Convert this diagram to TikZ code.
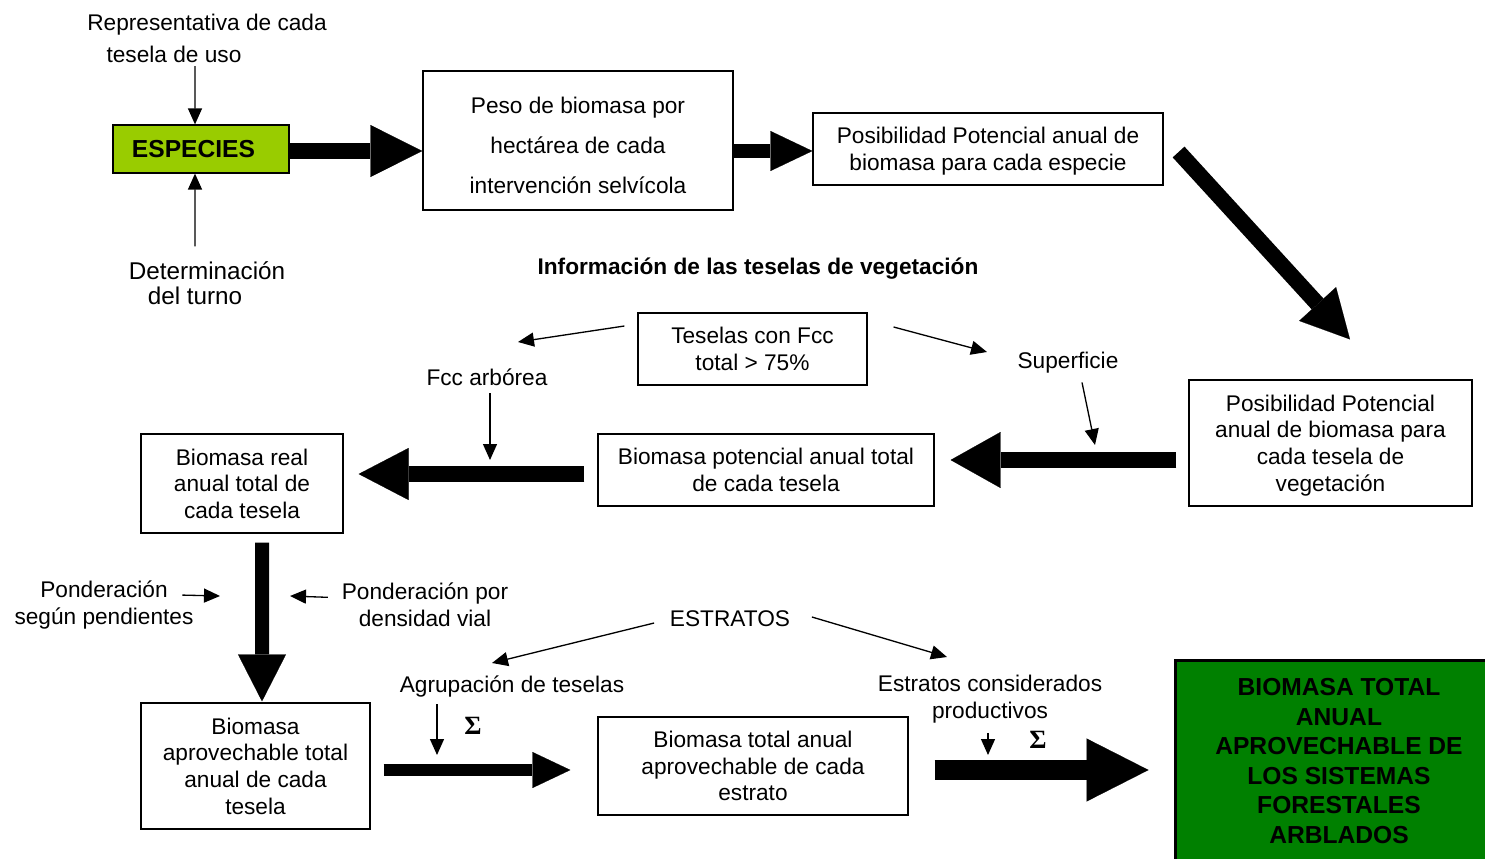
\documentclass[tikz,border=0pt]{standalone}
\usepackage{fontspec}
\setmainfont{Liberation Sans}
\newfontfamily\sigfont{Liberation Serif}
\usepackage{tikz}
\usetikzlibrary{arrows.meta,positioning,calc}
\definecolor{espgreen}{RGB}{153,204,0}
\definecolor{fingreen}{RGB}{0,128,0}

\begin{document}
\begin{tikzpicture}[x=0.02cm, y=-0.02cm]
\tikzstyle{box}=[draw, line width=0.7pt, inner sep=0pt, align=center, text depth=0pt, font=\fontsize{12.9}{15.2}\selectfont]
\tikzstyle{lbl}=[inner sep=2pt, align=center, font=\fontsize{12.9}{15.2}\selectfont]
\tikzstyle{sig}=[inner sep=2pt, font=\fontsize{15}{16}\sigfont\bfseries]
\tikzstyle{pointer}=[line width=0.75pt, -{Triangle[length=0.32cm,width=0.28cm]}]
\tikzset{fat/.style n args={3}{line width=#1, -{Triangle[width=#2,length=#3,line width=0.1pt]}}}
\useasboundingbox (0,0) rectangle (1485,859);

\node[box, fill=espgreen, minimum width=3.52cm, minimum height=0.96cm, font=\fontsize{14}{16.8}\selectfont\bfseries] (esp) at (201,149) {ESPECIES\hspace*{0.3cm}};
\node[box, minimum width=6.2cm, minimum height=2.78cm, font=\fontsize{12.9}{22.8}\selectfont] (peso) at (578,140.5) {\rule{0pt}{15pt}Peso de biomasa por\\hectárea de cada\\intervención selvícola};
\node[box, minimum width=7cm, minimum height=1.44cm] (ppe) at (988,149) {Posibilidad Potencial anual de\\biomasa para cada especie};
\node[lbl, font=\fontsize{12.9}{18.2}\selectfont] (rep) at (207,38) {Representativa de cada\\tesela de uso\hspace*{1.32cm}};
\node[lbl, font=\fontsize{13.8}{14.5}\selectfont] (det) at (207,283) {Determinación\\del turno\hspace*{0.48cm}};

\node[lbl, font=\fontsize{12.9}{15.2}\selectfont\bfseries] (info) at (758,269) {Información de las teselas de vegetación};
\node[box, minimum width=4.58cm, minimum height=1.44cm] (tes) at (752.5,349) {Teselas con Fcc\\total > 75\%};
\node[lbl] (fcc) at (487,377) {Fcc arbórea};
\node[lbl] (sup) at (1068,363) {Superficie};
\node[box, minimum width=5.66cm, minimum height=2.52cm] (ppt) at (1330.5,443) {Posibilidad Potencial\\anual de biomasa para\\cada tesela de\\vegetación};
\node[box, minimum width=6.72cm, minimum height=1.44cm] (bpot) at (766,470) {Biomasa potencial anual total\\de cada tesela};
\node[box, minimum width=4.04cm, minimum height=1.98cm] (breal) at (242,483.5) {Biomasa real\\anual total de\\cada tesela};

\node[lbl] (pond1) at (104,605) {Ponderación\\según pendientes};
\node[lbl] (pond2) at (425,605) {Ponderación por\\densidad vial};
\node[lbl] (estr) at (730,619) {ESTRATOS};
\node[lbl] (agr) at (512,686) {Agrupación de teselas};
\node[lbl] (ecp) at (990,699) {Estratos considerados\\productivos};
\node[sig] (sig1) at (473,726) {Σ};
\node[sig] (sig2) at (1038,740) {Σ};
\node[box, minimum width=4.58cm, minimum height=2.52cm] (bapr) at (255.5,766) {Biomasa\\aprovechable total\\anual de cada\\tesela};
\node[box, minimum width=6.2cm, minimum height=1.96cm] (btot) at (753,766) {Biomasa total anual\\aprovechable de cada\\estrato};
\node[box, fill=fingreen, line width=1.7pt, minimum width=6.56cm, minimum height=4.04cm, font=\fontsize{14}{16.8}\selectfont\bfseries] (fin) at (1339,761) {BIOMASA TOTAL\\ANUAL\\APROVECHABLE DE\\LOS SISTEMAS\\FORESTALES\\ARBLADOS};

\coordinate (fcce) at (518,342);
\coordinate (supe) at (987,352);
\coordinate (fccd) at (490,460);
\coordinate (supd) at (1095,445);
\coordinate (pd1) at (220,596);
\coordinate (pd2) at (290,596);
\coordinate (agre) at (492,663);
\coordinate (ecpe) at (947,657);
\coordinate (agrd) at (437,755);
\coordinate (ecpd) at (988,755);

\draw[pointer] ([xshift=-0.24cm]rep.south) -- ([xshift=-0.12cm]esp.north);
\draw[pointer] ([shift={(-12,-11)}]det.north) -- ([xshift=-0.12cm]esp.south);
\draw[pointer] ([shift={(-13,-23)}]tes.west) -- (fcce);
\draw[pointer] ([shift={(26,-22)}]tes.east) -- (supe);
\draw[pointer] ([shift={(3,4)}]fcc.south) -- (fccd);
\draw[pointer] ([shift={(14,5)}]sup.south) -- (supd);
\draw[pointer] ([shift={(-15,18)}]pond1.north east) -- (pd1);
\draw[pointer] ([shift={(-10,18)}]pond2.north west) -- (pd2);
\draw[pointer] ([shift={(-12,4)}]estr.west) -- (agre);
\draw[pointer] ([shift={(18,-2)}]estr.east) -- (ecpe);
\draw[pointer] ([shift={(-75,3.5)}]agr.south) -- (agrd);
\draw[pointer] ([shift={(-2,6)}]ecp.south) -- (ecpd);

\draw[fat={0.32cm}{1.04cm}{1.04cm}] ([shift={(0,2)}]esp.east) -- ([shift={(0,2)}]esp.east -| peso.west);
\draw[fat={0.28cm}{0.8cm}{0.84cm}] ([shift={(0,2)}]ppe.west -| peso.east) -- ([shift={(0,2)}]ppe.west);
\draw[fat={0.32cm}{1.0cm}{0.96cm}] ([shift={(15,3)}]ppe.east) -- ([shift={(19.5,-40)}]ppt.north);
\draw[fat={0.32cm}{1.12cm}{1.0cm}] ([shift={(-12,17)}]ppt.west) -- ([shift={(16,-10)}]bpot.east);
\draw[fat={0.32cm}{1.04cm}{1.0cm}] ([shift={(-13,4)}]bpot.west) -- ([shift={(15,-9.5)}]breal.east);
\draw[fat={0.28cm}{0.96cm}{0.94cm}] ([shift={(20,9)}]breal.south) -- ([shift={(6.5,-1)}]bapr.north);
\draw[fat={0.24cm}{0.72cm}{0.76cm}] ([shift={(13,4)}]bapr.east) -- ([shift={(-27,4)}]btot.west);
\draw[fat={0.4cm}{1.26cm}{1.24cm}] ([shift={(26,4)}]btot.east) -- ([shift={(-25,9)}]fin.west);
\end{tikzpicture}
\end{document}
